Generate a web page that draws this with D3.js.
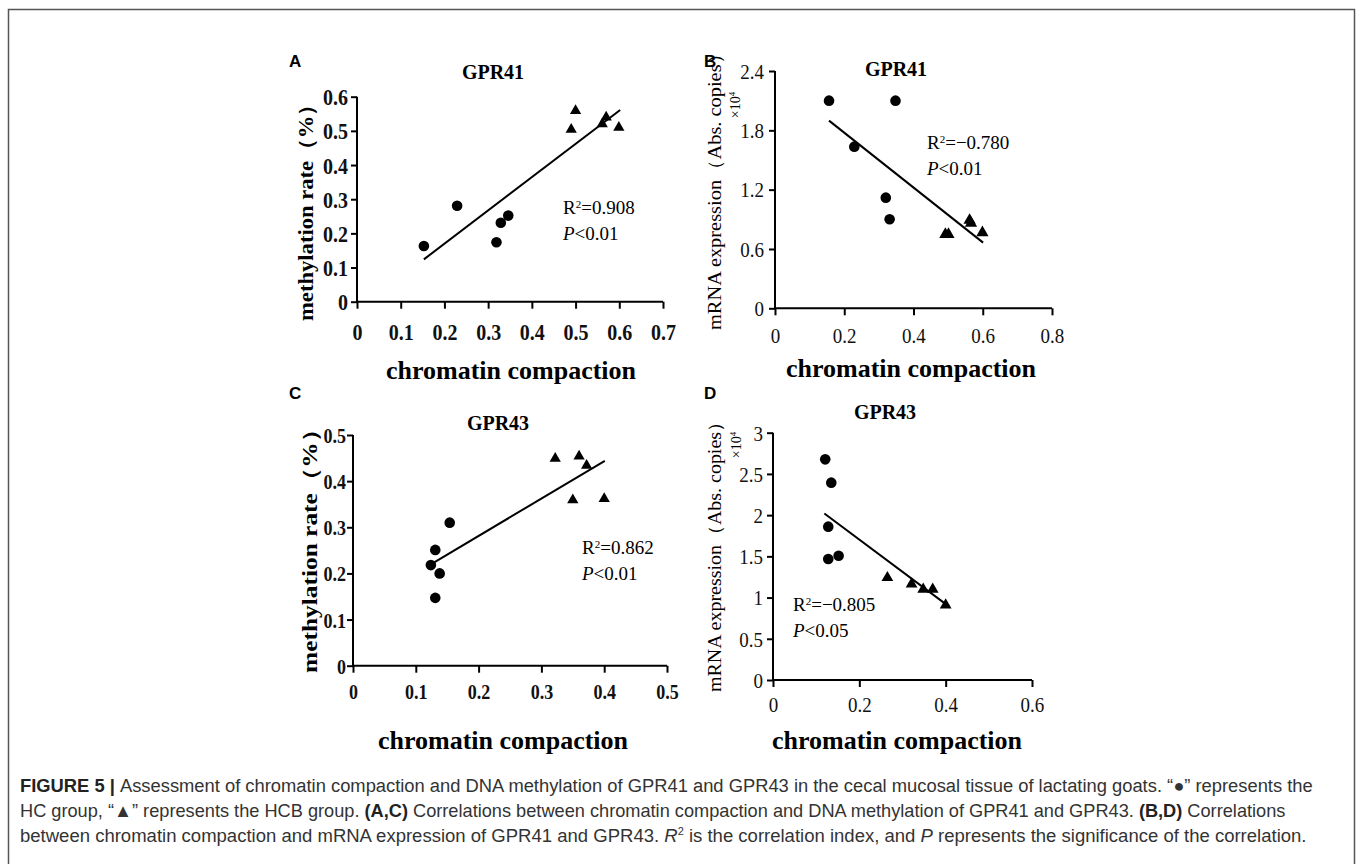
<!DOCTYPE html>
<html>
<head>
<meta charset="utf-8">
<script src="https://cdn.jsdelivr.net/npm/d3@7"></script>
<style>
  body { margin: 0; background: #fff; }
  svg { display: block; }
</style>
</head>
<body>
<script>
// ---- data ----
// A: GPR41, methylation vs compaction
const aHcX = [0.153, 0.229, 0.319, 0.329, 0.346];
const aHcY = [0.163, 0.281, 0.174, 0.231, 0.252];
const aHcbX = [0.490, 0.500, 0.561, 0.570, 0.599];
const aHcbY = [0.504, 0.559, 0.520, 0.540, 0.510];
const aFitX = [0.153, 0.602];
const aFitY = [0.124, 0.561];
const aXTicks = [0, 0.1, 0.2, 0.3, 0.4, 0.5, 0.6, 0.7];
const aYTicks = [0, 0.1, 0.2, 0.3, 0.4, 0.5, 0.6];

// B: GPR41, mRNA vs compaction
const bHcX = [0.156, 0.348, 0.229, 0.320, 0.331];
const bHcY = [2.10, 2.10, 1.635, 1.119, 0.90];
const bHcbX = [0.492, 0.501, 0.562, 0.566, 0.599];
const bHcbY = [0.748, 0.748, 0.89, 0.86, 0.765];
const bFitX = [0.156, 0.601];
const bFitY = [1.898, 0.664];
const bXTicks = [0, 0.2, 0.4, 0.6, 0.8];
const bYTicks = [0, 0.6, 1.2, 1.8, 2.4];

// C: GPR43, methylation vs compaction
const cHcX = [0.154, 0.131, 0.124, 0.138, 0.131];
const cHcY = [0.310, 0.251, 0.218, 0.200, 0.147];
const cHcbX = [0.322, 0.360, 0.372, 0.350, 0.400];
const cHcbY = [0.449, 0.454, 0.434, 0.359, 0.362];
const cFitX = [0.128, 0.401];
const cFitY = [0.223, 0.444];
const cXTicks = [0, 0.1, 0.2, 0.3, 0.4, 0.5];
const cYTicks = [0, 0.1, 0.2, 0.3, 0.4, 0.5];

// D: GPR43, mRNA vs compaction
const dHcX = [0.121, 0.135, 0.128, 0.128, 0.152];
const dHcY = [2.677, 2.394, 1.86, 1.468, 1.508];
const dHcbX = [0.265, 0.321, 0.348, 0.370, 0.400];
const dHcbY = [1.241, 1.164, 1.10, 1.10, 0.91];
const dFitX = [0.119, 0.408];
const dFitY = [2.02, 0.89];
const dXTicks = [0, 0.2, 0.4, 0.6];
const dYTicks = [0, 0.5, 1, 1.5, 2, 2.5, 3];

const xTitle = "chromatin compaction";
const methLabel = "methylation rate（%）";
const mrnaLabel = "mRNA expression（Abs. copies）";

const serif = "'Liberation Serif', 'Times New Roman', serif";
const sans = "'Liberation Sans', Arial, sans-serif";

const width = 1357;
const height = 864;

const svg = d3.select("body").append("svg")
  .attr("width", width)
  .attr("height", height);

// outer frame
svg.append("rect")
  .attr("x", 8.5).attr("y", 9.5)
  .attr("width", 1346).attr("height", 900)
  .attr("fill", "none")
  .attr("stroke", "#555")
  .attr("stroke-width", 1.5);

const zip = (xs, ys) => xs.map((v, i) => [v, ys[i]]);

function panel(p) {
  const x = d3.scaleLinear().domain([0, p.xTicks[p.xTicks.length - 1]]).range(p.xr);
  const y = d3.scaleLinear().domain([0, p.yTicks[p.yTicks.length - 1]]).range(p.yr);
  const g = svg.append("g");
  const fmt = d3.format("~g");
  const st = p.stretch || 1;

  // x axis
  const gx = g.append("g")
    .attr("transform", `translate(0,${p.yr[0]})`)
    .call(d3.axisBottom(x).tickValues(p.xTicks).tickFormat(fmt).tickSize(7).tickSizeOuter(0));
  gx.selectAll("text")
    .attr("transform", `scale(1,${st})`)
    .attr("y", p.xLabOff / st).attr("dy", "0.35em");

  // y axis
  const gy = g.append("g")
    .attr("transform", `translate(${p.xr[0]},0)`)
    .call(d3.axisLeft(y).tickValues(p.yTicks).tickFormat(fmt).tickSize(6).tickSizeOuter(0));
  gy.selectAll("text")
    .attr("transform", `scale(1,${st})`)
    .attr("x", p.yLabOff).attr("dy", "0.35em");

  [gx, gy].forEach(a => {
    a.selectAll("path, line").attr("stroke", "#000").attr("stroke-width", 2);
    a.selectAll("text")
      .attr("fill", "#111")
      .style("font-family", serif)
      .style("font-size", p.tickSize + "px")
      .style("font-weight", p.tickWeight);
  });
  gx.select(".domain").attr("d", `M${p.xr[0] - 1},0H${p.xr[1]}`);
  gy.select(".domain").attr("d", `M0,${p.yr[0] + 1}V${p.yr[1]}`);

  // fit line
  g.append("path")
    .datum(zip(p.fitX, p.fitY))
    .attr("d", d3.line().x(d => x(d[0])).y(d => y(d[1])))
    .attr("stroke", "#000")
    .attr("stroke-width", 2)
    .attr("fill", "none");

  // HC group: circles
  g.selectAll("circle.hc")
    .data(zip(p.hcX, p.hcY))
    .join("circle")
    .attr("class", "hc")
    .attr("cx", d => x(d[0]))
    .attr("cy", d => y(d[1]))
    .attr("r", p.r)
    .attr("fill", "#000");

  // HCB group: triangles
  g.selectAll("path.hcb")
    .data(zip(p.hcbX, p.hcbY))
    .join("path")
    .attr("class", "hcb")
    .attr("transform", d => `translate(${x(d[0])},${y(d[1])})`)
    .attr("d", d3.symbol().type(d3.symbolTriangle).size(p.tri))
    .attr("fill", "#000");

  // title
  g.append("text")
    .attr("x", p.title[1]).attr("y", p.title[2])
    .attr("text-anchor", "middle").attr("dy", "0.35em")
    .style("font-family", serif).style("font-size", "20px").style("font-weight", "bold")
    .text(p.title[0]);

  // x title
  g.append("text")
    .attr("x", p.xTitlePos[0]).attr("y", p.xTitlePos[1])
    .attr("text-anchor", "middle").attr("dy", "0.35em")
    .style("font-family", serif).style("font-size", "26px").style("font-weight", "bold")
    .text(xTitle);

  // y title, stretched to the length it has in the figure
  g.append("text")
    .attr("transform", `translate(${p.yTitlePos[0]},${p.yTitlePos[1]}) rotate(-90)`)
    .attr("text-anchor", "middle").attr("dy", "0.35em")
    .attr("textLength", p.yTitleLen).attr("lengthAdjust", "spacingAndGlyphs")
    .style("font-family", serif).style("font-size", p.yTitleSize + "px")
    .style("font-weight", p.yTitleWeight)
    .text(p.yTitle);

  if (p.sci) {
    const t = g.append("text")
      .attr("transform", `translate(${p.sci[0]},${p.sci[1]}) rotate(-90)`)
      .attr("text-anchor", "middle").attr("dy", "0.35em")
      .style("font-family", serif).style("font-size", "14px");
    t.append("tspan").text("×10");
    t.append("tspan").attr("font-size", "9px").attr("dy", "-5").text("4");
  }

  // stats
  const s1 = g.append("text")
    .attr("x", p.stat[1]).attr("y", p.stat[2]).attr("dy", "0.35em")
    .style("font-family", serif).style("font-size", "19px");
  s1.append("tspan").text("R");
  s1.append("tspan").attr("font-size", "11px").attr("dy", "-6").text("2");
  s1.append("tspan").attr("dy", "6").text(p.stat[0]);

  const s2 = g.append("text")
    .attr("x", p.stat[1]).attr("y", p.stat[2] + 26).attr("dy", "0.35em")
    .style("font-family", serif).style("font-size", "19px");
  s2.append("tspan").attr("font-style", "italic").text("P");
  s2.append("tspan").text(p.stat[3]);

  // panel letter
  svg.append("text")
    .attr("x", p.letter[1]).attr("y", p.letter[2]).attr("dy", "0.35em")
    .style("font-family", sans).style("font-size", "17px").style("font-weight", "bold")
    .text(p.letter[0]);
}

panel({
  hcX: aHcX, hcY: aHcY, hcbX: aHcbX, hcbY: aHcbY, fitX: aFitX, fitY: aFitY,
  xTicks: aXTicks, yTicks: aYTicks,
  xr: [357, 663], yr: [301.7, 96.7],
  xLabOff: 30, yLabOff: -9, tickSize: 20, tickWeight: "bold", stretch: 1.15,
  r: 5.3, tri: 55,
  title: ["GPR41", 493, 72],
  xTitlePos: [511, 370],
  yTitle: methLabel, yTitlePos: [306, 207], yTitleSize: 20, yTitleWeight: "bold", yTitleLen: 228,
  stat: ["=0.908", 563, 207, "<0.01"],
  letter: ["A", 289, 61]
});

panel({
  hcX: bHcX, hcY: bHcY, hcbX: bHcbX, hcbY: bHcbY, fitX: bFitX, fitY: bFitY,
  xTicks: bXTicks, yTicks: bYTicks,
  xr: [775, 1052], yr: [308.3, 71],
  xLabOff: 27, yLabOff: -11, tickSize: 19, tickWeight: "normal", stretch: 1.1,
  r: 5.3, tri: 65,
  title: ["GPR41", 896, 69],
  xTitlePos: [911, 368],
  yTitle: mrnaLabel, yTitlePos: [715, 187], yTitleSize: 18, yTitleWeight: "normal", yTitleLen: 286,
  sci: [735, 105],
  stat: ["=−0.780", 927, 142, "<0.01"],
  letter: ["B", 704, 61]
});

panel({
  hcX: cHcX, hcY: cHcY, hcbX: cHcbX, hcbY: cHcbY, fitX: cFitX, fitY: cFitY,
  xTicks: cXTicks, yTicks: cYTicks,
  xr: [353, 667], yr: [665.7, 435],
  xLabOff: 26, yLabOff: -7, tickSize: 18, tickWeight: "bold", stretch: 1.2,
  r: 5.3, tri: 55,
  title: ["GPR43", 498, 423],
  xTitlePos: [503, 740],
  yTitle: methLabel, yTitlePos: [310, 545], yTitleSize: 20, yTitleWeight: "bold", yTitleLen: 256,
  stat: ["=0.862", 582, 547, "<0.01"],
  letter: ["C", 289, 393]
});

panel({
  hcX: dHcX, hcY: dHcY, hcbX: dHcbX, hcbY: dHcbY, fitX: dFitX, fitY: dFitY,
  xTicks: dXTicks, yTicks: dYTicks,
  xr: [773, 1032], yr: [680, 432.7],
  xLabOff: 25, yLabOff: -10, tickSize: 19, tickWeight: "normal", stretch: 1.1,
  r: 5.3, tri: 60,
  title: ["GPR43", 885, 412],
  xTitlePos: [897, 740],
  yTitle: mrnaLabel, yTitlePos: [715, 552], yTitleSize: 18, yTitleWeight: "normal", yTitleLen: 280,
  sci: [736, 445],
  stat: ["=−0.805", 793, 604, "<0.05"],
  letter: ["D", 704, 393]
});

// ---- caption ----
const captionLines = [
  [["b", "FIGURE 5 | "], ["n", "Assessment of chromatin compaction and DNA methylation of GPR41 and GPR43 in the cecal mucosal tissue of lactating goats. “●” represents the"]],
  [["n", "HC group, “▲” represents the HCB group. "], ["b", "(A,C)"], ["n", " Correlations between chromatin compaction and DNA methylation of GPR41 and GPR43. "], ["b", "(B,D)"], ["n", " Correlations"]],
  [["n", "between chromatin compaction and mRNA expression of GPR41 and GPR43. "], ["i", "R"], ["s", "2"], ["n", " is the correlation index, and "], ["i", "P"], ["n", " represents the significance of the correlation."]]
];
const captionEnds = [1313, 1287, 1307];
const captionY = [792, 817, 842];

captionLines.forEach((parts, li) => {
  const t = svg.append("text")
    .attr("x", 20).attr("y", captionY[li])
    .attr("fill", "#333")
    .style("font-family", sans).style("font-size", "17px");
  let afterSup = false;
  parts.forEach(([k, s]) => {
    const sp = t.append("tspan").text(s);
    if (k === "b") sp.attr("font-weight", "bold").attr("fill", "#222");
    if (k === "i") sp.attr("font-style", "italic");
    if (k === "s") sp.attr("font-size", "11px").attr("dy", "-7");
    if (afterSup) sp.attr("dy", "7");
    afterSup = k === "s";
  });
  const w = t.node().getComputedTextLength();
  const target = captionEnds[li] - 20;
  t.style("font-size", (17 * target / w).toFixed(2) + "px");
});
</script>
</body>
</html>
